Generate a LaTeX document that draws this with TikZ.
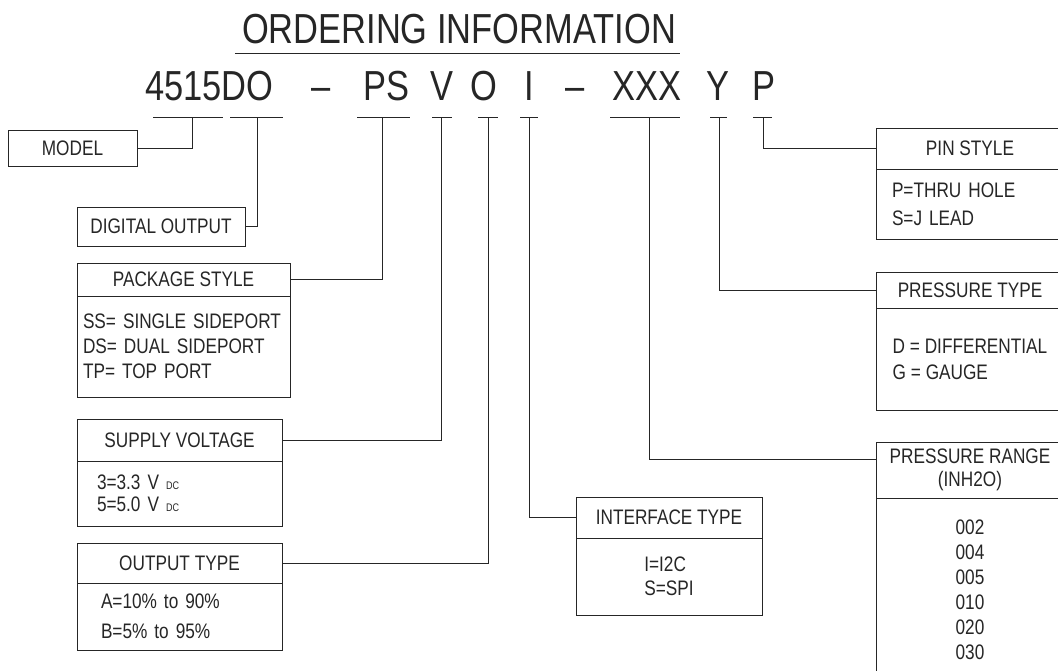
\documentclass[tikz,border=0pt]{standalone}
\usepackage{fontspec}
\newfontfamily\cadfont[FakeStretch=0.82]{Liberation Sans}
\usetikzlibrary{positioning}
\usepackage{xcolor}
\definecolor{ink}{HTML}{262626}
\newcommand{\vdc}{V\hspace{7pt}{\fontsize{11}{11}\selectfont DC}}
\tikzset{
  every node/.style={font=\cadfont\fontsize{21}{25}\selectfont,text=ink},
  big/.style={font=\cadfont\fontsize{42}{48}\selectfont,anchor=base,inner sep=0pt},
  box/.style={draw=ink,line width=1pt,outer sep=0pt,inner sep=0pt},
  head/.style={box,anchor=north west},
  body/.style={box,align=left},
  linegap/.style={font=\cadfont\fontsize{21}{#1}\selectfont},
  wire/.style={draw=ink,line width=1pt},
}

\begin{document}
\begin{tikzpicture}[x=1pt,y=-1pt]
\useasboundingbox (0,0) rectangle (1058,670);
\clip (0,0) rectangle (1058,670);

% title and part number
\node[big] (title) at (459,43) {ORDERING INFORMATION};
\draw[wire] ([xshift=-7pt,yshift=-10pt]title.base west) -- ([xshift=4pt,yshift=-10pt]title.base east);

\node[big] (cBase) at (209.5,100) {4515DO};
\node[big] (cDashA) at (321,100) {\textendash};
\node[big] (cPS) at (386.5,100) {PS};
\node[big] (cV) at (442,100) {V};
\node[big] (cO) at (483.5,100) {O};
\node[big] (cI) at (529.5,100) {I};
\node[big] (cDashB) at (575,100) {\textendash};
\node[big] (cXXX) at (647,100) {XXX};
\node[big] (cY) at (717.5,100) {Y};
\node[big] (cP) at (764,100) {P};

% ticks under each field
\foreach \a/\b in {153/223,230/283,357/410,432/452,478/498,520/538,610/680,710/727,753/772}
  \draw[wire] (\a,117) -- (\b,117);
\foreach \n/\x in {Model/192,Digital/257,Pkg/382,Sup/441,Out/488,If/529,Range/649,Ptype/719,Pin/763}
  \coordinate (tap\n) at (\x,117);

% left column
\node[box,minimum width=129pt,minimum height=36pt,anchor=north west] (model) at (8,130) {MODEL};
\node[box,minimum width=168pt,minimum height=39pt,anchor=north west] (digital) at (77,207) {DIGITAL OUTPUT};

\node[head,minimum width=213pt,minimum height=33pt] (pkgHead) at (77,263) {PACKAGE STYLE};
\node[body,linegap=25,minimum width=213pt,minimum height=101pt,text width=201pt,inner xsep=6pt,below=0pt of pkgHead] (pkgBody) {SS= SINGLE SIDEPORT\\DS= DUAL SIDEPORT\\TP= TOP PORT};

\node[head,minimum width=205pt,minimum height=42pt] (supHead) at (77,419) {SUPPLY VOLTAGE};
\node[body,linegap=22,minimum width=205pt,minimum height=65pt,text width=165pt,inner xsep=20pt,below=0pt of supHead] (supBody) {3=3.3 \vdc\\5=5.0 \vdc};

\node[head,minimum width=205pt,minimum height=40pt] (outHead) at (77,543) {OUTPUT TYPE};
\node[body,linegap=30,minimum width=205pt,minimum height=67pt,text width=157pt,inner xsep=24pt,below=0pt of outHead] (outBody) {A=10\% to 90\%\\B=5\% to 95\%};

% middle
\node[head,minimum width=186pt,minimum height=41pt] (ifHead) at (576,497) {INTERFACE TYPE};
\node[body,linegap=24,minimum width=186pt,minimum height=77pt,below=0pt of ifHead] (ifBody) {I=I2C\\S=SPI};

% right column
\node[head,minimum width=188pt,minimum height=41pt] (pinHead) at (876,128) {PIN STYLE};
\node[body,linegap=28,minimum width=188pt,minimum height=70pt,text width=156pt,inner xsep=16pt,below=0pt of pinHead] (pinBody) {P=THRU HOLE\\S=J LEAD};

\node[head,minimum width=188pt,minimum height=36pt] (ptypeHead) at (876,272) {PRESSURE TYPE};
\node[body,linegap=26,minimum width=188pt,minimum height=102pt,below=0pt of ptypeHead] (ptypeBody) {D = DIFFERENTIAL\\G = GAUGE};

\node[head,linegap=23,align=center,minimum width=188pt,minimum height=56pt] (rangeHead) at (876,442) {PRESSURE RANGE\\(INH2O)};
\node[body,linegap=25,align=center,minimum width=188pt,minimum height=184pt,below=0pt of rangeHead] (rangeBody) {002\\004\\005\\010\\020\\030};

% leaders
\draw[wire] (tapModel) |- (model.east);
\draw[wire] (tapDigital) |- (digital.east);
\draw[wire] (tapPkg) |- (pkgHead.east);
\draw[wire] (tapSup) |- (supHead.east);
\draw[wire] (tapOut) |- (outHead.east);
\draw[wire] (tapIf) |- (ifHead.west);
\draw[wire] (tapRange) |- ([yshift=11pt]rangeHead.west);
\draw[wire] (tapPtype) |- (ptypeHead.west);
\draw[wire] (tapPin) |- (pinHead.west);

\end{tikzpicture}
\end{document}
